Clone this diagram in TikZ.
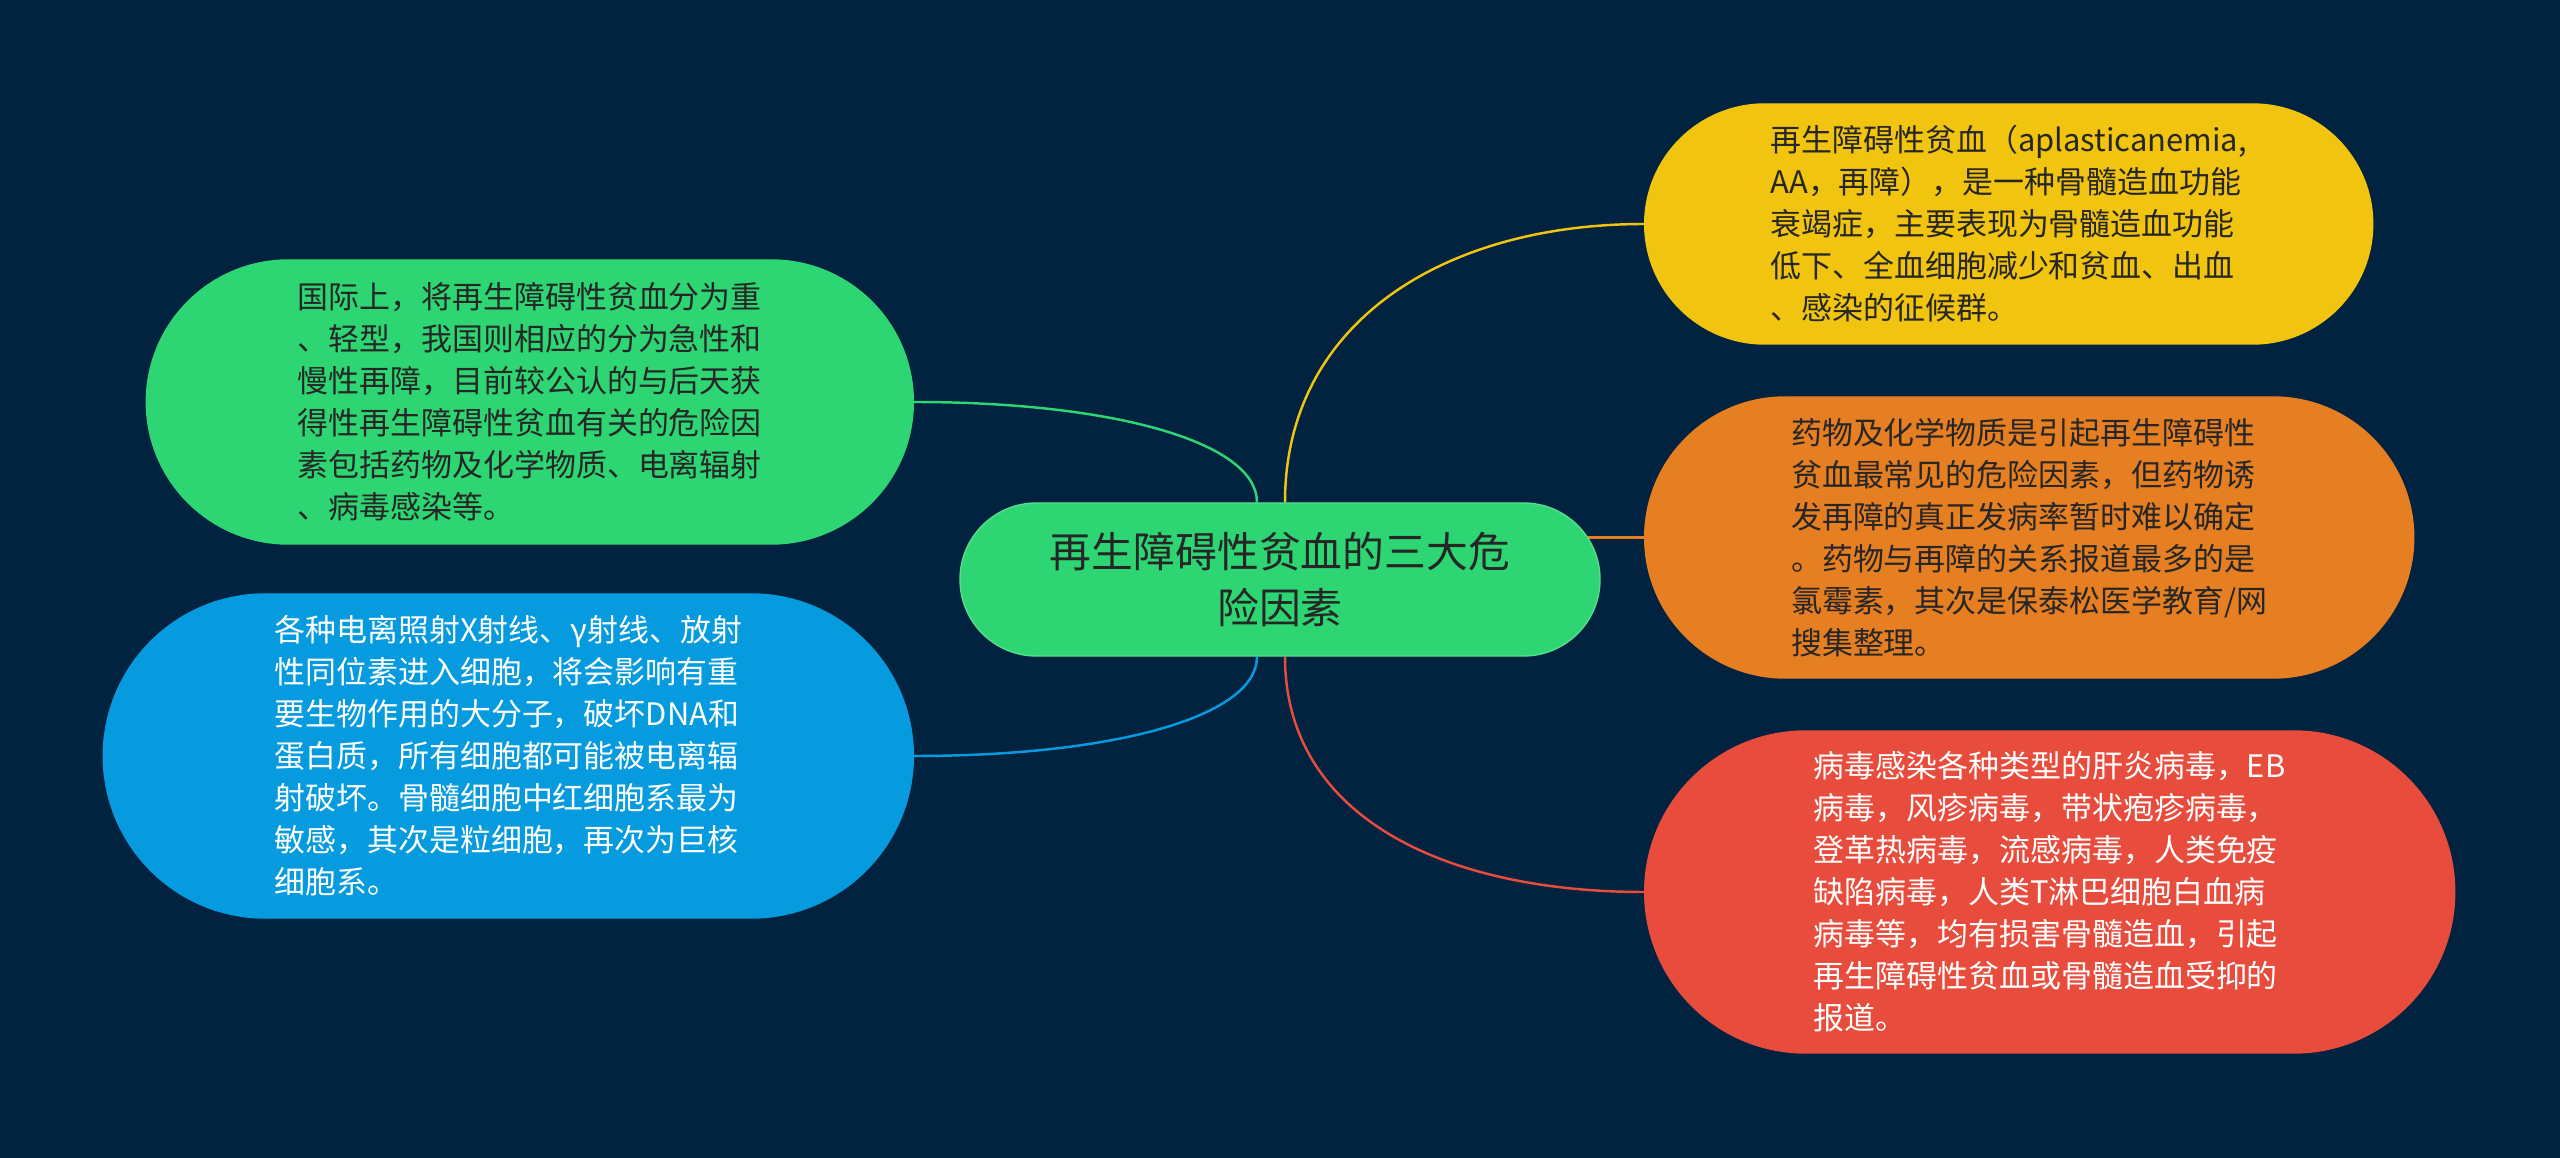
\documentclass[tikz,border=0pt]{standalone}
\usepackage{fontspec}
\setmainfont{Noto Sans CJK SC}
\usepackage{tikz}
\usetikzlibrary{positioning}
\usepackage{xcolor}
\definecolor{rfbg}{HTML}{012340}
\definecolor{rfyellow}{HTML}{F1C40F}
\definecolor{rforange}{HTML}{E67E22}
\definecolor{rfred}{HTML}{E74C3C}
\definecolor{rfgreen}{HTML}{2ED573}
\definecolor{rfblue}{HTML}{069BDE}
\definecolor{rfdark}{HTML}{262626}
\pgfdeclarelayer{bg}
\pgfsetlayers{bg,main}
\tikzset{
  rfbox/.style={draw=#1, fill=#1, rectangle, align=left, inner sep=0pt,
    font=\fontsize{8.8}{11.95}\selectfont},
  rfroot/.style={draw=rfgreen!80!white, fill=rfgreen, rectangle, align=center, inner sep=0pt,
    text=rfdark, font=\fontsize{11.9}{15.8}\selectfont},
  rflink/.style={line width=0.7pt},
}

\begin{document}
\begin{tikzpicture}
  \useasboundingbox (0,0) rectangle (25.60,-11.58);

  \node[rfroot, minimum width=6.40cm, minimum height=1.53cm, rounded corners=0.765cm] (root) at (12.80,-5.795)
    {再生障碍性贫血的三大危\\险因素};

  \node[rfbox=rfyellow, text=rfdark, anchor=west, minimum width=7.28cm, minimum height=2.40cm, rounded corners=1.20cm] (yellow) at (16.44,-2.24)
    {再生障碍性贫血（aplasticanemia,\\AA，再障），是一种骨髓造血功能\\衰竭症，主要表现为骨髓造血功能\\低下、全血细胞减少和贫血、出血\\、感染的征候群。};
  \node[rfbox=rforange, text=rfdark, anchor=west, minimum width=7.69cm, minimum height=2.81cm, rounded corners=1.405cm] (orange) at (16.44,-5.375)
    {药物及化学物质是引起再生障碍性\\贫血最常见的危险因素，但药物诱\\发再障的真正发病率暂时难以确定\\。药物与再障的关系报道最多的是\\氯霉素，其次是保泰松医学教育/网\\搜集整理。};
  \node[rfbox=rfred, text=white, anchor=west, minimum width=8.10cm, minimum height=3.22cm, rounded corners=1.61cm] (red) at (16.44,-8.92)
    {病毒感染各种类型的肝炎病毒，EB\\病毒，风疹病毒，带状疱疹病毒，\\登革热病毒，流感病毒，人类免疫\\缺陷病毒，人类T淋巴细胞白血病\\病毒等，均有损害骨髓造血，引起\\再生障碍性贫血或骨髓造血受抑的\\报道。};

  \node[rfbox=rfgreen, text=rfdark, anchor=east, minimum width=7.67cm, minimum height=2.84cm, rounded corners=1.42cm] (green) at (9.14,-4.02)
    {国际上，将再生障碍性贫血分为重\\、轻型，我国则相应的分为急性和\\慢性再障，目前较公认的与后天获\\得性再生障碍性贫血有关的危险因\\素包括药物及化学物质、电离辐射\\、病毒感染等。};
  \node[rfbox=rfblue, text=white, anchor=east, minimum width=8.10cm, minimum height=3.24cm, rounded corners=1.62cm] (blue) at (9.14,-7.56)
    {各种电离照射X射线、γ射线、放射\\性同位素进入细胞，将会影响有重\\要生物作用的大分子，破坏DNA和\\蛋白质，所有细胞都可能被电离辐\\射破坏。骨髓细胞中红细胞系最为\\敏感，其次是粒细胞，再次为巨核\\细胞系。};

  \begin{pgfonlayer}{bg}
    \fill[rfbg] (0,0) rectangle (25.60,-11.58);
    \draw[rflink, rfyellow] ([xshift=0.05cm]root.north) .. controls +(0,1.8) and +(-2.0,0) .. (yellow.west);
    \draw[rflink, rforange] (root.center |- orange.west) -- (orange.west);
    \draw[rflink, rfred] ([xshift=0.05cm]root.south) .. controls +(0,-1.6) and +(-2.0,0) .. (red.west);
    \draw[rflink, rfgreen] ([xshift=-0.23cm]root.north) .. controls +(0,0.6) and +(2.0,0) .. (green.east);
    \draw[rflink, rfblue] ([xshift=-0.23cm]root.south) .. controls +(0,-0.6) and +(2.0,0) .. (blue.east);
  \end{pgfonlayer}
\end{tikzpicture}
\end{document}
